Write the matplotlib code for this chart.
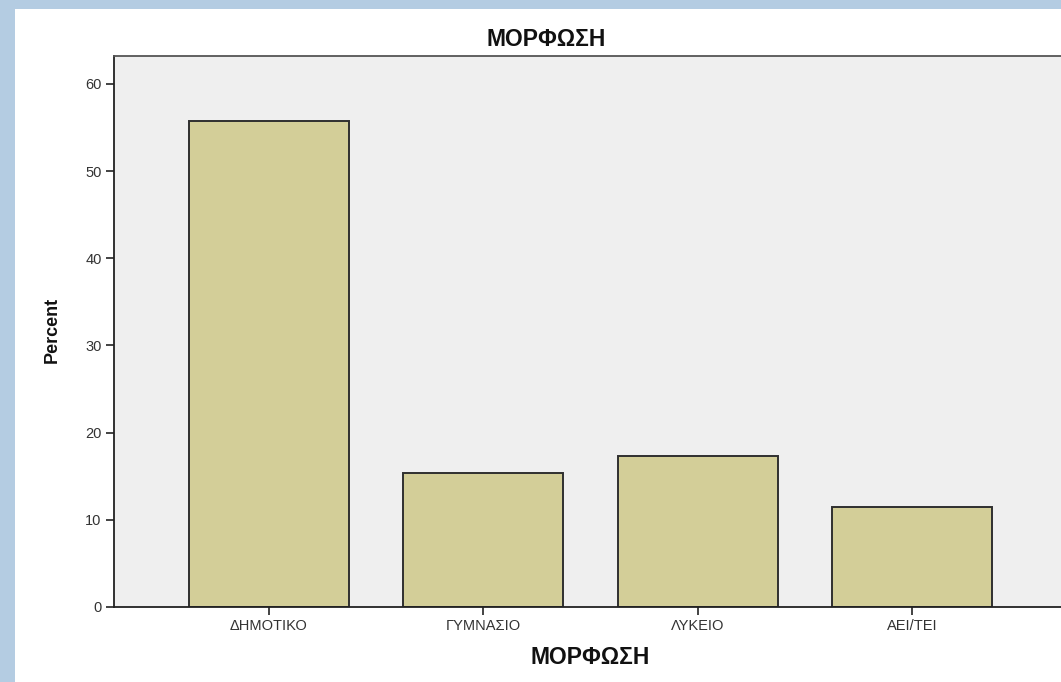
import matplotlib.pyplot as plt
from matplotlib.patches import Rectangle

categories = ['ΔΗΜΟΤΙΚΟ', 'ΓΥΜΝΑΣΙΟ', 'ΛΥΚΕΙΟ', 'ΑΕΙ/ΤΕΙ']
percent = [55.8, 15.4, 17.3, 11.5]
yticks = [0, 10, 20, 30, 40, 50, 60]

plt.rcParams['font.family'] = ['Liberation Sans', 'DejaVu Sans']

W, H = 1061, 682
fig = plt.figure(figsize=(W / 100, H / 100), dpi=100)
fig.patch.set_facecolor('#b4cce2')
# white panel on the light-blue frame
fig.patches.append(Rectangle((15 / W, 0), 1 - 15 / W, (H - 9) / H,
                             transform=fig.transFigure, facecolor='white',
                             edgecolor='none', zorder=-10))

ax = fig.add_axes([114 / W, (H - 607) / H, 1 - 114 / W, (607 - 56) / H])
ax.set_facecolor('#efefef')

x = list(range(len(categories)))
ax.bar(x, percent, width=0.747, color='#d3ce98', edgecolor='#2f2f2f',
       linewidth=1.4, zorder=2)

ax.set_xlim(-0.723, 3.695)
ax.set_ylim(0, 63.2)
ax.set_yticks(yticks)
ax.set_xticks(x)
ax.set_xticklabels(categories)
ax.tick_params(axis='both', direction='out', length=6, width=1.2,
               colors='#222222', labelcolor='#333333', labelsize=10.5, pad=3)

for s in ['left', 'bottom', 'top']:
    ax.spines[s].set_color('#222222')
    ax.spines[s].set_linewidth(1.3)
ax.spines['top'].set_color('#555555')
ax.spines['right'].set_visible(False)

fig.text(546 / W, 1 - 40 / H, 'ΜΟΡΦΩΣΗ', ha='center', va='center',
         fontsize=16.5, fontweight='bold', color='#111111')
fig.text(590 / W, 1 - 658 / H, 'ΜΟΡΦΩΣΗ', ha='center', va='center',
         fontsize=16.5, fontweight='bold', color='#111111')
fig.text(52 / W, 1 - 330 / H, 'Percent', ha='center', va='center',
         rotation=90, fontsize=13, fontweight='bold', color='#111111',
         family=['Liberation Sans Narrow', 'Liberation Sans', 'DejaVu Sans'])

fig.savefig('out.png', dpi=100, facecolor=fig.get_facecolor())
